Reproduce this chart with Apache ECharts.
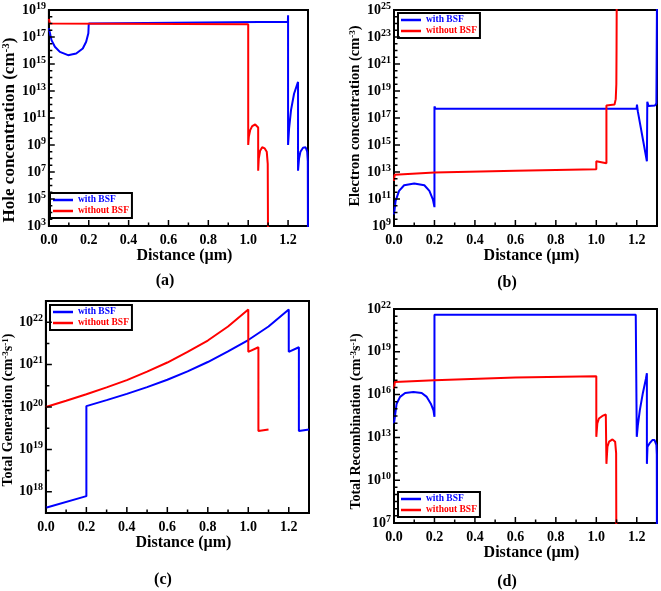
<!DOCTYPE html>
<html><head><meta charset="utf-8">
<script src="https://cdn.jsdelivr.net/npm/echarts@6/dist/echarts.min.js"></script>
<style>html,body{margin:0;padding:0;background:#fff}#c{width:661px;height:591px}</style>
</head><body><div id="c"></div>
<script>
const FONT = '"Liberation Serif", "Times New Roman", serif';
const BLUE = '#0000ff', RED = '#ff0000';
const seriesNames = ['with BSF', 'without BSF'];

// x axis ticks (µm)
const xTickLabels = [0, 0.2, 0.4, 0.6, 0.8, 1.0, 1.2];
const xMinorTicks = [0.1, 0.3, 0.5, 0.7, 0.9, 1.1];
// y axis tick labels (decade exponents)
const aDecades = [3, 5, 7, 9, 11, 13, 15, 17, 19];
const bDecades = [9, 11, 13, 15, 17, 19, 21, 23, 25];
const cDecades = [18, 19, 20, 21, 22];
const dDecades = [7, 10, 13, 16, 19, 22];

// (a) Hole concentration (cm^-3)
const aWithX = [0, 0.013, 0.03, 0.055, 0.096, 0.137, 0.17, 0.187, 0.198, 0.2, 0.21, 1.199, 1.2, 1.2, 1.205, 1.215, 1.23, 1.25, 1.25, 1.255, 1.262, 1.275, 1.288, 1.296, 1.299, 1.3];
const aWithY = [4.4e17, 5.9e16, 1.9e16, 7.9e15, 4.5e15, 6.0e15, 1.4e16, 4.4e16, 1.9e17, 1.0e18, 1.35e18, 1.35e18, 4.0e18, 1.0e9, 1.6e10, 4.0e11, 6.3e12, 4.7e13, 1.26e7, 1.0e8, 3.2e8, 6.3e8, 6.8e8, 3.2e8, 6.3e7, 1];
const aWithoutX = [0, 0.005, 0.01, 1.0, 1.0, 1.003, 1.01, 1.02, 1.035, 1.045, 1.05, 1.05, 1.053, 1.06, 1.07, 1.083, 1.093, 1.098, 1.1];
const aWithoutY = [2.2e18, 1.0e18, 8.9e17, 8.9e17, 1.0e9, 4.0e9, 1.26e10, 2.5e10, 3.3e10, 2.8e10, 2.0e10, 1.26e7, 1.0e8, 3.8e8, 6.8e8, 5.6e8, 3.2e8, 4.0e7, 1];

// (b) Electron concentration (cm^-3)
const bWithX = [0, 0.008, 0.025, 0.05, 0.1, 0.15, 0.175, 0.192, 0.2, 0.2, 0.205, 1.199, 1.201, 1.205, 1.25, 1.252, 1.258, 1.29, 1.297, 1.3];
const bWithY = [7.2e9, 7.2e10, 4.0e11, 1.05e12, 1.4e12, 1.05e12, 4.0e11, 9.5e10, 2.5e10, 7.1e17, 4.8e17, 4.8e17, 1.0e18, 3.2e17, 6.3e13, 1.6e18, 7.9e17, 8.5e17, 1.2e18, 1e26];
const bWithoutX = [0, 0.003, 0.01, 0.2, 0.6, 1.0, 1.0, 1.003, 1.05, 1.05, 1.055, 1.09, 1.096, 1.099, 1.1, 1.101];
const bWithoutY = [2.2e12, 6.3e12, 7.1e12, 9.3e12, 1.23e13, 1.6e13, 6.3e13, 5.6e13, 4.5e13, 8.5e17, 8.9e17, 1.0e18, 2.5e18, 3.2e19, 1.0e22, 1e26];

// (c) Total Generation (cm^-3 s^-1)
const cWithX = [0, 0.2, 0.2, 0.3, 0.4, 0.5, 0.6, 0.7, 0.8, 0.9, 1.0, 1.1, 1.2, 1.2, 1.25, 1.25, 1.3];
const cWithY = [4.2e17, 7.9e17, 1.05e20, 1.45e20, 2.04e20, 2.95e20, 4.4e20, 6.9e20, 1.15e21, 2.04e21, 3.8e21, 7.9e21, 2.0e22, 2.0e21, 2.57e21, 2.7e19, 2.95e19];
const cWithoutX = [0, 0.1, 0.2, 0.3, 0.4, 0.5, 0.6, 0.7, 0.8, 0.9, 1.0, 1.0, 1.05, 1.05, 1.1];
const cWithoutY = [1.0e20, 1.41e20, 2.0e20, 2.9e20, 4.3e20, 6.8e20, 1.12e21, 2.0e21, 3.7e21, 7.9e21, 2.0e22, 2.0e21, 2.57e21, 2.7e19, 2.95e19];

// (d) Total Recombination (cm^-3 s^-1)
const dWithX = [0, 0.013, 0.03, 0.055, 0.096, 0.137, 0.162, 0.182, 0.195, 0.2, 0.2, 0.205, 1.195, 1.2, 1.205, 1.215, 1.23, 1.245, 1.25, 1.25, 1.253, 1.263, 1.277, 1.288, 1.297, 1.299, 1.3];
const dWithY = [9.5e13, 2.3e15, 6.9e15, 1.3e16, 1.55e16, 1.3e16, 6.9e15, 2.3e15, 7.9e14, 2.75e14, 4.0e21, 4.0e21, 4.0e21, 1.1e13, 6.3e13, 7.9e14, 1.26e16, 1.26e17, 3.2e17, 1.4e11, 2.2e12, 3.8e12, 6.5e12, 6.5e12, 3.0e12, 6.0e11, 1];
const dWithoutX = [0, 0.004, 0.2, 0.6, 1.0, 1.0, 1.005, 1.013, 1.03, 1.047, 1.05, 1.05, 1.055, 1.063, 1.08, 1.093, 1.098, 1.1];
const dWithoutY = [2.6e16, 7.6e16, 1.0e17, 1.55e17, 1.9e17, 1.1e13, 9.5e13, 2.1e14, 3.2e14, 4.0e14, 4.0e14, 1.4e11, 2.2e12, 5.0e12, 7.2e12, 5.0e12, 8.0e11, 1];

function pts(xs, ys) { return xs.map((x, i) => [x, Math.log10(ys[i])]); }
function halfSteps(lo, hi, majors) {
  const out = [];
  for (let k = Math.ceil(lo * 2); k <= Math.floor(hi * 2); k++) {
    const v = k / 2;
    if (majors.indexOf(v) < 0) out.push(v);
  }
  return out;
}

const panels = [
  { grid: {left: 44, top: 10, width: 264, height: 216}, yMin: 3, yMax: 19, decades: aDecades,
    yName: 'Hole concentration (cm{s|-3})', nameSize: 17, nameGap: 23, namePad: [0, 24, 0, 0],
    data: [pts(aWithX, aWithY), pts(aWithoutX, aWithoutY)], legend: {left: 50, top: 193}, cap: ['(a)', 165, 281] },
  { grid: {left: 394, top: 10, width: 263, height: 216}, yMin: 9, yMax: 25, decades: bDecades,
    yName: 'Electron concentration (cm{s|-3})', nameSize: 14.5, nameGap: 27, namePad: [0, 0, 0, 4],
    data: [pts(bWithX, bWithY), pts(bWithoutX, bWithoutY)], legend: {left: 398, top: 13}, cap: ['(b)', 507, 283] },
  { grid: {left: 45, top: 301, width: 264, height: 212}, yMin: 17.5, yMax: 22.5, decades: cDecades,
    yName: 'Total Generation (cm{s|-3}s{s|-1})', nameSize: 14, nameGap: 26, namePad: [0, 6, 0, 0],
    data: [pts(cWithX, cWithY), pts(cWithoutX, cWithoutY)], legend: {left: 50, top: 305}, cap: ['(c)', 163, 580] },
  { grid: {left: 394, top: 309, width: 263, height: 214}, yMin: 7, yMax: 22, decades: dDecades,
    yName: 'Total Recombination (cm{s|-3}s{s|-1})', nameSize: 14, nameGap: 25, namePad: [0, 11, 0, 0],
    data: [pts(dWithX, dWithY), pts(dWithoutX, dWithoutY)], legend: {left: 398, top: 492}, cap: ['(d)', 507, 582] }
];

const X_MIN = 0, X_MAX = 1.3;
const MAJOR_PX = 6, MINOR_PX = 3.5;
const grids = [], xAxes = [], yAxes = [], series = [], legends = [], captions = [];

function tickSeries(i, a, b) {
  return { type: 'line', xAxisIndex: i, yAxisIndex: i, data: [a, b], symbol: 'none', showSymbol: false,
           silent: true, clip: false, z: 5, lineStyle: { color: '#000', width: 1.5 }, emphasis: { disabled: true } };
}

panels.forEach((p, i) => {
  const supSize = Math.round(p.nameSize * 0.65);
  const supStyle = { fontSize: supSize, fontWeight: 'bold', fontFamily: FONT, verticalAlign: 'top', lineHeight: supSize, color: '#000' };
  grids.push(Object.assign({ show: true, borderColor: '#000', borderWidth: 2, backgroundColor: 'transparent' }, p.grid));
  xAxes.push({
    gridIndex: i, type: 'value', min: X_MIN, max: X_MAX, position: 'bottom',
    axisLine: { show: true, onZero: false, lineStyle: { color: '#000', width: 2 } },
    axisTick: { show: false },
    axisLabel: { customValues: xTickLabels, formatter: v => v.toFixed(1), margin: 7,
                 fontFamily: FONT, fontSize: 14, fontWeight: 'bold', color: '#000' },
    splitLine: { show: false },
    name: 'Distance (µm)', nameLocation: 'middle', nameGap: 19,
    nameTextStyle: { fontFamily: FONT, fontSize: 16, fontWeight: 'bold', color: '#000', padding: [0, 0, 0, 12] }
  });
  yAxes.push({
    gridIndex: i, type: 'value', min: p.yMin, max: p.yMax, position: 'left',
    axisLine: { show: true, onZero: false, lineStyle: { color: '#000', width: 2 } },
    axisTick: { show: false },
    axisLabel: {
      customValues: p.decades, margin: 3, color: '#000',
      formatter: v => '{b|10}{s|' + Math.round(v) + '}',
      rich: { b: { fontSize: 14, fontWeight: 'bold', fontFamily: FONT, lineHeight: 18, color: '#000' },
              s: { fontSize: 10, fontWeight: 'bold', fontFamily: FONT, verticalAlign: 'top', lineHeight: 10, color: '#000' } }
    },
    splitLine: { show: false },
    name: p.yName, nameLocation: 'middle', nameGap: p.nameGap,
    nameTextStyle: { fontFamily: FONT, fontSize: p.nameSize, fontWeight: 'bold', color: '#000', padding: p.namePad, rich: { s: supStyle } }
  });
  [BLUE, RED].forEach((col, k) => {
    series.push({
      name: seriesNames[k], type: 'line', xAxisIndex: i, yAxisIndex: i,
      data: p.data[k], showSymbol: false, symbol: 'none', clip: true, z: 3,
      lineStyle: { color: col, width: 2 }, itemStyle: { color: col }
    });
  });
  // inward tick marks drawn as short segments in each panel's own axis units
  const dxPerPx = (X_MAX - X_MIN) / p.grid.width;
  const dyPerPx = (p.yMax - p.yMin) / p.grid.height;
  p.decades.forEach(v => series.push(tickSeries(i, [X_MIN, v], [X_MIN + MAJOR_PX * dxPerPx, v])));
  halfSteps(p.yMin, p.yMax, p.decades).forEach(v => series.push(tickSeries(i, [X_MIN, v], [X_MIN + MINOR_PX * dxPerPx, v])));
  xTickLabels.forEach(v => series.push(tickSeries(i, [v, p.yMin], [v, p.yMin + MAJOR_PX * dyPerPx])));
  xMinorTicks.forEach(v => series.push(tickSeries(i, [v, p.yMin], [v, p.yMin + MINOR_PX * dyPerPx])));

  legends.push({
    left: p.legend.left, top: p.legend.top, orient: 'vertical', selectedMode: false,
    data: [{ name: seriesNames[0], textStyle: { color: BLUE } }, { name: seriesNames[1], textStyle: { color: RED } }],
    icon: 'rect', itemWidth: 20, itemHeight: 2.5, itemGap: 1, padding: [2, 3, 2, 3],
    borderColor: '#000', borderWidth: 2, backgroundColor: '#fff',
    textStyle: { fontFamily: FONT, fontSize: 9.5, fontWeight: 'bold' }
  });
  captions.push({
    type: 'text', x: p.cap[1], y: p.cap[2],
    style: { text: p.cap[0], align: 'center', verticalAlign: 'middle', textAlign: 'center', textVerticalAlign: 'middle',
             font: 'bold 16px ' + FONT, fill: '#000' }
  });
});

const chart = echarts.init(document.getElementById('c'), null, { renderer: 'canvas' });
chart.setOption({
  animation: false,
  backgroundColor: '#fff',
  grid: grids, xAxis: xAxes, yAxis: yAxes, series: series, legend: legends,
  graphic: { elements: captions }
});
</script></body></html>
